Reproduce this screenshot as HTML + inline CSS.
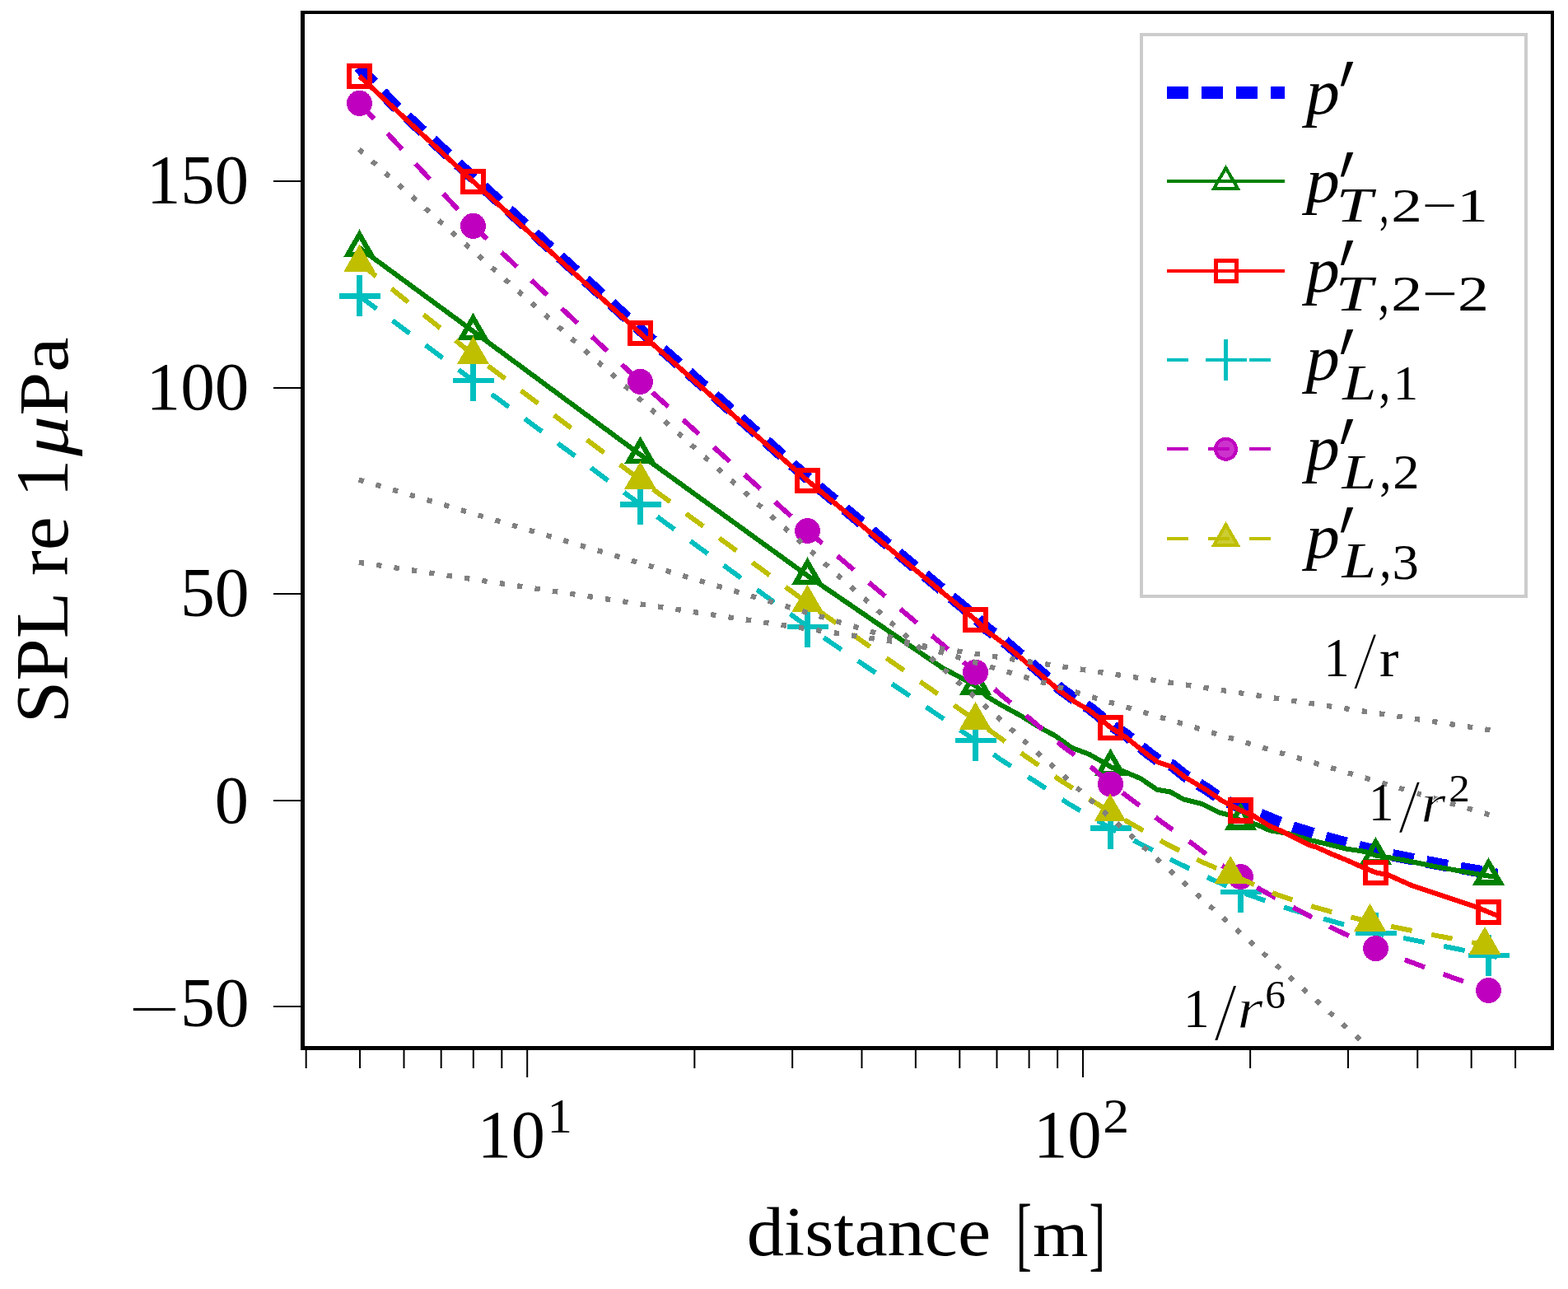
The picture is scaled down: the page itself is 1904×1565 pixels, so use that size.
<!DOCTYPE html><html><head><meta charset="utf-8"><title>SPL vs distance</title>
<style>html,body{margin:0;padding:0;background:#fff;overflow:hidden}svg{display:block}text{font-family:"Liberation Serif",serif;fill:#000}.it{font-style:italic}</style></head><body>
<svg width="1904" height="1565" viewBox="0 0 1904 1565">
<rect x="0" y="0" width="1904" height="1565" fill="#fff"/>
<defs><clipPath id="ax"><rect x="367.5" y="15" width="1517.5" height="1257.5"/></clipPath></defs>
<g clip-path="url(#ax)" fill="none" stroke-linejoin="round" shape-rendering="crispEdges">
<polyline points="436.0,81.3 476.0,125.1 574.5,215.9 777.5,400.5 980.5,580.3 1184.5,749.4 1197.9,763.0 1219.3,778.5 1251.4,805.8 1287.1,836.0 1305.0,849.0 1322.9,859.5 1333.6,868.0 1348.5,880.1 1367.5,892.5 1394.3,914.3 1406.8,923.4 1422.9,929.0 1438.9,941.8 1465.7,958.2 1483.6,971.0 1528.0,988.0 1556.0,999.5 1565.0,1002.9 1604.3,1015.5 1644.5,1026.5 1670.0,1033.0 1684.6,1037.0 1724.5,1045.0 1765.5,1052.5 1806.0,1059.5 1818.0,1062.0" stroke="#0000ff" stroke-width="14.6" stroke-dasharray="26 16" stroke-linecap="butt"/>
<polyline points="436.5,300.9 574.5,402.1 777.5,552.0 980.5,698.9 1144.0,810.6 1184.5,832.3 1197.9,845.4 1215.7,856.0 1238.9,868.6 1262.0,882.9 1281.8,893.6 1301.4,907.9 1322.9,915.9 1337.0,924.0 1348.5,931.0 1364.0,936.4 1385.4,945.4 1405.0,958.8 1421.0,961.4 1437.0,970.4 1458.6,975.7 1480.0,986.4 1494.3,990.0 1506.5,996.4 1525.7,1001.0 1541.8,1008.2 1563.2,1011.8 1590.0,1019.8 1616.8,1026.0 1634.6,1030.5 1657.9,1034.0 1670.5,1038.5 1703.0,1044.0 1745.0,1052.5 1787.0,1060.0 1807.5,1063.5 1818.0,1065.0" stroke="#008000" stroke-width="6.0" stroke-linecap="butt"/>
<path d="M436.50,284.67L450.56,309.01L422.44,309.01ZM574.50,385.82L588.56,410.17L560.44,410.17ZM777.50,535.72L791.56,560.07L763.44,560.07ZM980.50,682.62L994.56,706.97L966.44,706.97ZM1184.50,816.07L1198.56,840.41L1170.44,840.41ZM1348.50,914.77L1362.56,939.12L1334.44,939.12ZM1506.50,980.17L1520.56,1004.51L1492.44,1004.51ZM1670.50,1022.22L1684.56,1046.57L1656.44,1046.57ZM1807.50,1047.22L1821.56,1071.57L1793.44,1071.57Z" stroke="#008000" stroke-width="6.2" stroke-linejoin="miter" fill="none"/>
<polyline points="436.5,92.5 574.5,220.3 777.5,404.5 980.5,583.4 1184.5,752.4 1197.9,766.0 1219.3,781.5 1251.4,808.8 1287.1,839.0 1305.0,852.0 1322.9,862.5 1333.6,871.0 1348.5,883.1 1367.5,895.4 1394.3,916.8 1406.8,925.7 1422.9,931.0 1438.9,943.6 1465.7,959.6 1483.6,972.1 1506.5,983.9 1522.0,990.4 1541.8,1002.9 1554.3,1008.2 1572.1,1017.1 1590.0,1026.0 1599.0,1028.8 1616.8,1036.8 1634.6,1044.0 1652.5,1052.0 1670.5,1059.3 1686.2,1062.5 1713.2,1074.6 1740.0,1083.6 1766.8,1092.5 1793.6,1101.4 1807.5,1107.5 1818.0,1111.5" stroke="#ff0000" stroke-width="6.0" stroke-linecap="butt"/>
<path d="M424.00,80.00H449.00V105.00H424.00ZM562.00,207.80H587.00V232.80H562.00ZM765.00,392.00H790.00V417.00H765.00ZM968.00,570.90H993.00V595.90H968.00ZM1172.00,739.90H1197.00V764.90H1172.00ZM1336.00,870.60H1361.00V895.60H1336.00ZM1494.00,971.40H1519.00V996.40H1494.00ZM1658.00,1046.80H1683.00V1071.80H1658.00ZM1795.00,1095.00H1820.00V1120.00H1795.00Z" stroke="#ff0000" stroke-width="6.2" stroke-linejoin="miter" fill="none"/>
<polyline points="436.5,359.4 574.5,462.0 777.5,612.4 980.5,760.8 1184.5,899.0 1213.5,921.2 1255.9,948.0 1297.4,975.8 1348.5,1005.5 1383.5,1023.9 1427.9,1046.7 1472.2,1068.0 1506.5,1083.0 1564.1,1103.2 1612.3,1117.0 1670.5,1133.2 1708.5,1139.8 1757.5,1149.7 1807.5,1159.9 1818.0,1162.0" stroke="#00bfbf" stroke-width="6.0" stroke-dasharray="26 24" stroke-linecap="butt"/>
<path d="M411.50,359.40H461.50M436.50,334.40V384.40M549.50,462.00H599.50M574.50,437.00V487.00M752.50,612.40H802.50M777.50,587.40V637.40M955.50,760.80H1005.50M980.50,735.80V785.80M1159.50,899.00H1209.50M1184.50,874.00V924.00M1323.50,1005.50H1373.50M1348.50,980.50V1030.50M1481.50,1083.00H1531.50M1506.50,1058.00V1108.00M1645.50,1133.20H1695.50M1670.50,1108.20V1158.20M1782.50,1159.90H1832.50M1807.50,1134.90V1184.90" stroke="#00bfbf" stroke-width="6.2" stroke-linecap="butt"/>
<polyline points="436.5,125.3 574.5,274.3 777.5,463.4 980.5,644.5 1184.5,816.2 1213.5,842.0 1252.3,874.0 1290.3,906.0 1326.4,932.5 1348.5,952.0 1370.3,968.0 1408.7,996.6 1449.8,1025.7 1477.5,1047.0 1506.4,1064.5 1531.5,1080.5 1574.8,1104.1 1619.0,1127.3 1670.5,1151.6 1709.0,1166.5 1756.0,1184.0 1807.5,1202.5 1818.0,1206.0" stroke="#bf00bf" stroke-width="6.0" stroke-dasharray="26 24" stroke-linecap="butt"/>
<circle cx="436.5" cy="125.3" r="15.5" fill="#bf00bf"/>
<circle cx="574.5" cy="274.3" r="15.5" fill="#bf00bf"/>
<circle cx="777.5" cy="463.4" r="15.5" fill="#bf00bf"/>
<circle cx="980.5" cy="644.5" r="15.5" fill="#bf00bf"/>
<circle cx="1184.5" cy="816.2" r="15.5" fill="#bf00bf"/>
<circle cx="1348.5" cy="952" r="15.5" fill="#bf00bf"/>
<circle cx="1506.4" cy="1064.5" r="15.5" fill="#bf00bf"/>
<circle cx="1670.5" cy="1151.6" r="15.5" fill="#bf00bf"/>
<circle cx="1807.5" cy="1202.5" r="15.5" fill="#bf00bf"/>
<polyline points="436.5,319.1 574.5,430.6 777.5,582.6 980.5,732.2 1184.5,874.4 1247.8,919.9 1288.5,948.0 1348.0,986.0 1373.8,1000.1 1415.0,1023.9 1459.5,1046.5 1494.2,1061.4 1549.8,1085.8 1596.7,1101.5 1641.3,1113.8 1663.5,1119.3 1692.5,1125.5 1740.9,1135.3 1785.5,1143.8 1803.0,1147.4 1812.0,1149.5" stroke="#bfbf00" stroke-width="6.0" stroke-dasharray="26 24" stroke-linecap="butt"/>
<path d="M436.50,302.92L450.56,327.26L422.44,327.26ZM574.50,414.42L588.56,438.76L560.44,438.76ZM777.50,566.42L791.56,590.76L763.44,590.76ZM980.50,715.97L994.56,740.32L966.44,740.32ZM1184.50,858.17L1198.56,882.51L1170.44,882.51ZM1348.00,969.72L1362.06,994.07L1333.94,994.07ZM1494.20,1045.17L1508.26,1069.52L1480.14,1069.52ZM1663.50,1103.12L1677.56,1127.46L1649.44,1127.46ZM1803.00,1131.17L1817.06,1155.52L1788.94,1155.52Z" stroke="#bfbf00" stroke-width="6.2" stroke-linejoin="miter" fill="#bfbf00"/>
<line x1="435.8" y1="682.8" x2="1809.5" y2="886.3" stroke="#808080" stroke-width="6.3" stroke-dasharray="6.3 15.3" stroke-linecap="butt"/>
<line x1="435.7" y1="582.4" x2="1809.5" y2="989.5" stroke="#808080" stroke-width="6.3" stroke-dasharray="6.3 15.3" stroke-linecap="butt"/>
<line x1="435.8" y1="181.4" x2="1809.5" y2="1402.5" stroke="#808080" stroke-width="6.3" stroke-dasharray="6.3 15.3" stroke-linecap="butt"/>
</g>
<g fill="#000">
<rect x="365" y="13" width="5" height="1262"/>
<rect x="1883" y="13" width="4" height="1262"/>
<rect x="365" y="13" width="1522" height="4"/>
<rect x="365" y="1270" width="1522" height="5"/>
<rect x="332" y="219" width="33" height="2"/>
<rect x="332" y="470" width="33" height="2"/>
<rect x="332" y="720" width="33" height="2"/>
<rect x="332" y="971" width="33" height="2"/>
<rect x="332" y="1221" width="33" height="2"/>
<rect x="639.20" y="1275" width="2" height="33"/>
<rect x="1314.00" y="1275" width="2" height="33"/>
<rect x="370.67" y="1275" width="2" height="22"/>
<rect x="436.06" y="1275" width="2" height="22"/>
<rect x="489.50" y="1275" width="2" height="22"/>
<rect x="534.67" y="1275" width="2" height="22"/>
<rect x="573.81" y="1275" width="2" height="22"/>
<rect x="608.32" y="1275" width="2" height="22"/>
<rect x="842.34" y="1275" width="2" height="22"/>
<rect x="961.16" y="1275" width="2" height="22"/>
<rect x="1045.47" y="1275" width="2" height="22"/>
<rect x="1110.86" y="1275" width="2" height="22"/>
<rect x="1164.30" y="1275" width="2" height="22"/>
<rect x="1209.47" y="1275" width="2" height="22"/>
<rect x="1248.61" y="1275" width="2" height="22"/>
<rect x="1283.12" y="1275" width="2" height="22"/>
<rect x="1517.14" y="1275" width="2" height="22"/>
<rect x="1635.96" y="1275" width="2" height="22"/>
<rect x="1720.27" y="1275" width="2" height="22"/>
<rect x="1785.66" y="1275" width="2" height="22"/>
<rect x="1839.10" y="1275" width="2" height="22"/>
</g>
<rect x="161.9" y="1223.9" width="51.1" height="3.2" fill="#000"/>
<rect x="1386" y="42" width="467" height="682" fill="#fff" stroke="#cccccc" stroke-width="4"/>
<g shape-rendering="crispEdges">
<line x1="1417" y1="112.2" x2="1560" y2="112.2" stroke="#0000ff" stroke-width="15" stroke-dasharray="26 16"/>
<line x1="1417" y1="220.47" x2="1560" y2="220.47" stroke="#008000" stroke-width="4"/>
<path d="M1488.50,203.87L1502.88,228.77L1474.12,228.77Z" fill="none" stroke="#008000" stroke-width="4"/>
<line x1="1417" y1="328.74" x2="1560" y2="328.74" stroke="#ff0000" stroke-width="4"/>
<path d="M1476.00,316.24H1501.00V341.24H1476.00Z" fill="none" stroke="#ff0000" stroke-width="5"/>
<line x1="1417" y1="437.01" x2="1560" y2="437.01" stroke="#00bfbf" stroke-width="4" stroke-dasharray="26 24"/>
<path d="M1463.50,437.01H1513.50M1488.50,412.01V462.01" fill="none" stroke="#00bfbf" stroke-width="4.5"/>
<line x1="1417" y1="545.28" x2="1560" y2="545.28" stroke="#bf00bf" stroke-width="4" stroke-dasharray="26 24"/>
<circle cx="1488.5" cy="545.28" r="12.5" fill="#bf00bf" fill-opacity="0.8" stroke="#bf00bf" stroke-width="4"/>
<line x1="1417" y1="653.5500000000001" x2="1560" y2="653.5500000000001" stroke="#bfbf00" stroke-width="4" stroke-dasharray="26 24"/>
<path d="M1488.50,636.95L1502.88,661.85L1474.12,661.85Z" fill="#bfbf00" fill-opacity="0.8" stroke="#bfbf00" stroke-width="4"/>
</g>
<text id="yt150" x="185" y="247" font-size="82"  transform="matrix(1.00885 0.00000 0.00000 1.04183 -8.69912 -10.67381)">150</text>
<text id="yt100" x="185" y="497.5" font-size="82"  transform="matrix(1.01417 0.00000 0.00000 1.01851 -10.02090 -9.83103)">100</text>
<text id="yt50" x="224" y="749" font-size="82"  transform="matrix(1.02164 0.00000 0.00000 1.04183 -9.95631 -32.67134)">50</text>
<text id="yt0" x="263" y="999.5" font-size="82"  transform="matrix(1.00594 0.00000 0.00000 1.01306 -3.78733 -13.67185)">0</text>
<text id="ytm50" x="224" y="1246.5" font-size="82"  transform="matrix(1.02164 0.00000 0.00000 1.04183 -9.95631 -52.19753)">50</text>
<text id="xt10a" x="584" y="1406" font-size="82"  transform="matrix(1.00417 0.00000 0.00000 1.01306 -6.76634 -19.67323)">10</text>
<text id="xt1" x="667" y="1375" font-size="58"  transform="matrix(1.05000 0.00000 0.00000 1.02393 -35.91000 -32.60386)">1</text>
<text id="xt10b" x="1259" y="1406" font-size="82"  transform="matrix(1.00973 0.00000 0.00000 1.01306 -16.31556 -19.67323)">10</text>
<text id="xt2" x="1340" y="1375" font-size="58"  transform="matrix(1.10118 0.00000 0.00000 1.02393 -136.20585 -32.60386)">2</text>
<text id="xl_a" x="908" y="1525" font-size="86"  transform="matrix(1.05145 0.00000 0.00000 0.99201 -47.87347 11.08847)">distance</text>
<text id="xl_b" x="1236" y="1525" font-size="86"  transform="matrix(0.66512 0.00000 0.00000 1.16831 411.62401 -250.27316)">[</text>
<text id="xl_c" x="1254" y="1525" font-size="86"  transform="matrix(1.00940 0.00000 0.00000 0.93202 -11.81184 103.45986)">m</text>
<text id="xl_d" x="1323" y="1525" font-size="86"  transform="matrix(0.69109 0.00000 0.00000 1.16831 408.17825 -250.27316)">]</text>
<text id="yl_a" x="0" y="0" font-size="86"  transform="matrix(0.00000 -1.07589 1.05560 0.00000 82.01736 878.15509)">SPL re 1</text>
<text id="yl_b" x="0" y="0" font-size="86" font-style="italic" transform="matrix(0.00000 -1.13764 0.95012 0.00000 81.89263 554.10774)">μ</text>
<text id="yl_c" x="0" y="0" font-size="86"  transform="matrix(0.00000 -1.10976 0.99145 0.00000 81.61546 504.72927)">Pa</text>
<text id="a1_1" x="1611" y="821" font-size="68"  transform="matrix(0.91667 0.00000 0.00000 0.97968 130.75000 16.77825)">1</text>
<text id="a1_s" x="1640" y="821" font-size="68" style="font-family:'DejaVu Sans',sans-serif;font-weight:200;stroke:#fff;stroke-width:1.6px" transform="matrix(1.41721 0.00000 0.00000 1.21142 -682.66542 -165.23075)">/</text>
<text id="a1_r" x="1674" y="821" font-size="68"  transform="matrix(1.03340 0.00000 0.00000 0.91887 -54.94193 66.70317)">r</text>
<text id="a2_1" x="1665" y="996.5" font-size="68"  transform="matrix(0.89632 0.00000 0.00000 0.96174 169.74083 37.63426)">1</text>
<text id="a2_s" x="1698" y="996.5" font-size="68" style="stroke:#fff;stroke-width:1.2px" transform="matrix(1.42476 0.00000 0.00000 1.37527 -721.28479 -360.66301)">/</text>
<text id="a2_r" x="1727" y="996.5" font-size="68" font-style="italic" style="stroke:#fff;stroke-width:0.9px" transform="matrix(1.14726 0.00000 0.00000 0.99365 -255.94973 8.23022)">r</text>
<text id="a2_2" x="1760" y="973" font-size="46"  transform="matrix(1.11111 0.00000 0.00000 1.00971 -196.37778 -9.54686)">2</text>
<text id="a6_1" x="1441" y="1247.3" font-size="68"  transform="matrix(0.92922 0.00000 0.00000 0.98285 98.11213 21.29810)">1</text>
<text id="a6_s" x="1474" y="1247.3" font-size="68" style="stroke:#fff;stroke-width:1.2px" transform="matrix(1.50058 0.00000 0.00000 1.48445 -737.86077 -588.78473)">/</text>
<text id="a6_r" x="1504" y="1247.3" font-size="68" font-style="italic" style="stroke:#fff;stroke-width:0.9px" transform="matrix(1.18344 0.00000 0.00000 1.03333 -277.66558 -40.73333)">r</text>
<text id="a6_6" x="1537" y="1224" font-size="46"  transform="matrix(1.08029 0.00000 0.00000 1.06556 -124.16684 -80.24142)">6</text>
<text id="lp0" x="1578" y="137.9" font-size="88" font-style="italic" transform="matrix(0.93478 0.00000 0.00000 0.87904 110.58696 16.31298)">p</text>
<text id="lq0" x="1622" y="133.9" font-size="70" style="font-family:'DejaVu Math TeX Gyre','Liberation Serif',serif" transform="matrix(1.21018 0.00000 0.00000 1.83131 -340.03422 -74.96711)">′</text>
<text id="lp1" x="1578" y="246.10000000000002" font-size="88" font-style="italic" transform="matrix(0.93478 0.00000 0.00000 0.86233 110.58696 32.68254)">p</text>
<text id="lq1" x="1622" y="242.10000000000002" font-size="70" style="font-family:'DejaVu Math TeX Gyre','Liberation Serif',serif" transform="matrix(1.21018 0.00000 0.00000 1.82559 -340.03422 -162.28052)">′</text>
<text id="ls1_0" x="1628.0" y="268.90000000000003" font-size="60" font-style="italic" transform="matrix(1.31214 0.00000 0.00000 1.00274 -513.41635 -0.63695)">T</text>
<text id="ls1_1" x="1676.6" y="268.90000000000003" font-size="60"  transform="matrix(0.77186 0.00000 0.00000 1.14453 380.81538 -38.07900)">,</text>
<text id="ls1_2" x="1692.7" y="268.90000000000003" font-size="60"  transform="matrix(1.25576 0.00000 0.00000 0.96444 -436.41755 9.67270)">2−1</text>
<text id="lp2" x="1578" y="354.3" font-size="88" font-style="italic" transform="matrix(0.93478 0.00000 0.00000 0.87904 110.58696 42.11859)">p</text>
<text id="lq2" x="1622" y="350.3" font-size="70" style="font-family:'DejaVu Math TeX Gyre','Liberation Serif',serif" transform="matrix(1.21018 0.00000 0.00000 1.87500 -340.03422 -267.05000)">′</text>
<text id="ls2_0" x="1627.6" y="377.1" font-size="60" font-style="italic" transform="matrix(1.34231 0.00000 0.00000 1.03335 -562.86246 -12.57392)">T</text>
<text id="ls2_1" x="1676.1" y="377.1" font-size="60"  transform="matrix(0.90300 0.00000 0.00000 1.17516 160.04356 -65.02626)">,</text>
<text id="ls2_2" x="1693.0" y="377.1" font-size="60"  transform="matrix(1.26447 0.00000 0.00000 1.00531 -451.54187 -2.00140)">2−2</text>
<text id="lp3" x="1578" y="462.5" font-size="88" font-style="italic" transform="matrix(0.93478 0.00000 0.00000 0.88899 110.58696 50.13437)">p</text>
<text id="lq3" x="1622" y="458.5" font-size="70" style="font-family:'DejaVu Math TeX Gyre','Liberation Serif',serif" transform="matrix(1.21018 0.00000 0.00000 1.84428 -340.03422 -349.03504)">′</text>
<text id="ls3_0" x="1629.0" y="485.3" font-size="60" font-style="italic" transform="matrix(1.22666 0.00000 0.00000 1.00531 -368.02220 -3.06716)">L</text>
<text id="ls3_1" x="1677.1" y="485.3" font-size="60"  transform="matrix(0.92264 0.00000 0.00000 1.16762 127.16500 -81.69611)">,</text>
<text id="ls3_2" x="1697.2" y="485.3" font-size="60"  transform="matrix(1.01435 0.00000 0.00000 0.97710 -29.84174 10.61025)">1</text>
<text id="lp4" x="1578" y="570.7" font-size="88" font-style="italic" transform="matrix(0.93478 0.00000 0.00000 0.88899 110.58696 62.42390)">p</text>
<text id="lq4" x="1622" y="566.7" font-size="70" style="font-family:'DejaVu Math TeX Gyre','Liberation Serif',serif" transform="matrix(1.21018 0.00000 0.00000 1.85631 -340.03422 -446.30989)">′</text>
<text id="ls4_0" x="1628.8" y="593.5" font-size="60" font-style="italic" transform="matrix(1.24526 0.00000 0.00000 1.00274 -398.89188 -1.93833)">L</text>
<text id="ls4_1" x="1677.3" y="593.5" font-size="60"  transform="matrix(0.94772 0.00000 0.00000 1.12176 85.67500 -72.71744)">,</text>
<text id="ls4_2" x="1693.9" y="593.5" font-size="60"  transform="matrix(1.07974 0.00000 0.00000 1.00000 -137.63189 -0.30000)">2</text>
<text id="lp5" x="1578" y="678.9" font-size="88" font-style="italic" transform="matrix(0.93478 0.00000 0.00000 0.86425 110.58696 90.66578)">p</text>
<text id="lq5" x="1622" y="674.9" font-size="70" style="font-family:'DejaVu Math TeX Gyre','Liberation Serif',serif" transform="matrix(1.21018 0.00000 0.00000 1.89381 -340.03422 -561.73489)">′</text>
<text id="ls5_0" x="1628.8" y="701.6999999999999" font-size="60" font-style="italic" transform="matrix(1.24526 0.00000 0.00000 1.03335 -398.89188 -23.71176)">L</text>
<text id="ls5_1" x="1677.3" y="701.6999999999999" font-size="60"  transform="matrix(0.94772 0.00000 0.00000 1.12176 85.67500 -85.86802)">,</text>
<text id="ls5_2" x="1693.2" y="701.6999999999999" font-size="60"  transform="matrix(1.08000 0.00000 0.00000 1.00640 -138.08000 -3.31874)">3</text>
</svg></body></html>
